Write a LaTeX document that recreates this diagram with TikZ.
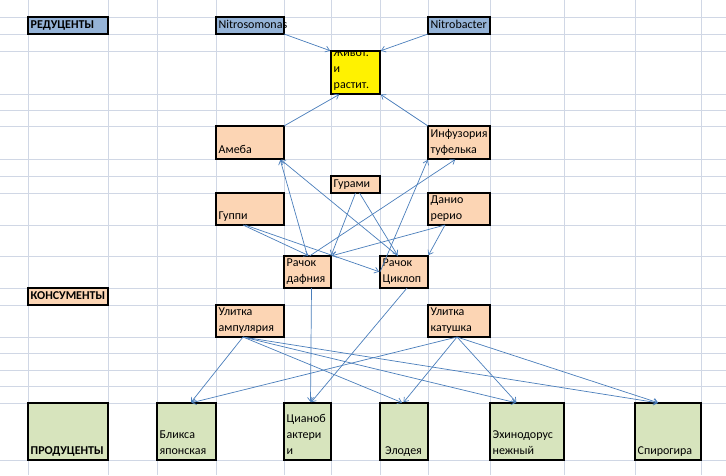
\documentclass[tikz,border=0pt]{standalone}
\usepackage{fontspec}
\setmainfont{Carlito}
\usepackage{xcolor}
\usepackage{tikz}
\usetikzlibrary{arrows.meta}

\definecolor{gridgray}{RGB}{208,215,229}
\definecolor{hdrblue}{RGB}{149,179,215}
\definecolor{peach}{RGB}{252,213,180}
\definecolor{plantgreen}{RGB}{215,228,189}
\definecolor{linkblue}{RGB}{74,126,187}

\begin{document}
\begin{tikzpicture}[
  x=1pt, y=-1pt,
  cell/.style={draw, line width=1.6pt, anchor=north west, inner sep=0pt, outer sep=0pt},
  celltext/.style={anchor=south west, align=left, inner xsep=2.5pt, inner ysep=0.3pt,
    font=\fontsize{12}{16}\selectfont, execute at end node=\strut},
  boldtext/.style={celltext, font=\fontsize{12}{16}\selectfont\bfseries},
  link/.style={draw=linkblue, line width=0.7pt, -{Straight Barb[length=4pt,width=6pt]}, shorten >=1pt}
]
\useasboundingbox (0,0) rectangle (726,475);
\fill[white] (0,0) rectangle (726,475);

% Sheet grid
\foreach \gx in {28,108,157,216,284,331,380,428,490,564,635,701}
  \draw[gridgray, line width=0.8pt] (\gx,0) -- (\gx,475);
\foreach \gy in {17,34,51,94,110,126,159,176,193,225,256,288,305,337,353,370,386,403,460}
  \draw[gridgray, line width=0.8pt] (0,\gy) -- (726,\gy);

% Reducers
\node[cell, fill=hdrblue, minimum width=80pt, minimum height=17pt] (reducenty) at (28,17) {};
\node[boldtext] (reducentytxt) at (reducenty.south west) {РЕДУЦЕНТЫ};
\node[cell, fill=hdrblue, minimum width=68pt, minimum height=17pt] (nitrosomonas) at (216,17) {};
\node[celltext] (nitrosomonastxt) at (nitrosomonas.south west) {Nitrosomonas};
\node[cell, fill=hdrblue, minimum width=62pt, minimum height=17pt] (nitrobacter) at (428,17) {};
\node[celltext] (nitrobactertxt) at (nitrobacter.south west) {Nitrobacter};

% Remains
\node[cell, fill=yellow, minimum width=49pt, minimum height=43pt] (zhivot) at (331,51) {};
\begin{scope}
  \clip (zhivot.north west) rectangle (zhivot.south east);
  \node[celltext] (zhivottxt) at (zhivot.south west) {Живот.\\и\\растит.};
\end{scope}
\draw[line width=1.6pt] (zhivot.north west) rectangle (zhivot.south east);

% Consumers
\node[cell, fill=peach, minimum width=68pt, minimum height=33pt] (ameba) at (216,126) {};
\node[celltext] (amebatxt) at (ameba.south west) {Амеба};
\node[cell, fill=peach, minimum width=62pt, minimum height=33pt] (infuzoria) at (428,126) {};
\node[celltext] (infuzoriatxt) at (infuzoria.south west) {Инфузория\\туфелька};
\node[cell, fill=peach, minimum width=49pt, minimum height=17pt] (gurami) at (331,176) {};
\node[celltext] (guramitxt) at (gurami.south west) {Гурами};
\node[cell, fill=peach, minimum width=68pt, minimum height=32pt] (guppi) at (216,193) {};
\node[celltext] (guppitxt) at (guppi.south west) {Гуппи};
\node[cell, fill=peach, minimum width=62pt, minimum height=32pt] (danio) at (428,193) {};
\node[celltext] (daniotxt) at (danio.south west) {Данио\\рерио};
\node[cell, fill=peach, minimum width=47pt, minimum height=32pt] (dafnia) at (284,256) {};
\node[celltext] (dafniatxt) at (dafnia.south west) {Рачок\\дафния};
\node[cell, fill=peach, minimum width=48pt, minimum height=32pt] (ciklop) at (380,256) {};
\node[celltext] (ciklopt) at (ciklop.south west) {Рачок\\Циклоп};
\node[cell, fill=peach, minimum width=80pt, minimum height=17pt] (konsumenty) at (28,288) {};
\node[boldtext] (konsumentytxt) at (konsumenty.south west) {КОНСУМЕНТЫ};
\node[cell, fill=peach, minimum width=68pt, minimum height=32pt] (ampularia) at (216,305) {};
\node[celltext] (ampulariatxt) at (ampularia.south west) {Улитка\\ампулярия};
\node[cell, fill=peach, minimum width=62pt, minimum height=32pt] (katushka) at (428,305) {};
\node[celltext] (katushkatxt) at (katushka.south west) {Улитка\\катушка};

% Producers
\node[cell, fill=plantgreen, minimum width=80pt, minimum height=57pt] (producenty) at (28,403) {};
\node[boldtext] (producentytxt) at (producenty.south west) {ПРОДУЦЕНТЫ};
\node[cell, fill=plantgreen, minimum width=59pt, minimum height=57pt] (bliksa) at (157,403) {};
\node[celltext] (bliksatxt) at (bliksa.south west) {Бликса\\японская};
\node[cell, fill=plantgreen, minimum width=47pt, minimum height=57pt] (cianob) at (284,403) {};
\node[celltext] (cianobtxt) at (cianob.south west) {Цианоб\\актери\\и};
\node[cell, fill=plantgreen, minimum width=48pt, minimum height=57pt] (elodea) at (380,403) {};
\node[celltext, inner xsep=5pt] (elodeatxt) at (elodea.south west) {Элодея};
\node[cell, fill=plantgreen, minimum width=74pt, minimum height=57pt] (ehinodorus) at (490,403) {};
\node[celltext] (ehinodorustxt) at (ehinodorus.south west) {Эхинодорус\\нежный};
\node[cell, fill=plantgreen, minimum width=66pt, minimum height=57pt] (spirogira) at (635,403) {};
\node[celltext] (spirogiratxt) at (spirogira.south west) {Спирогира};

% Links to the remains
\draw[link] (nitrosomonas.south east) -- (zhivot.north west);
\draw[link] (nitrobacter.south west) -- (zhivot.north east);
\draw[link] (ameba.north east) -- ([xshift=9pt]zhivot.south west);
\draw[link] (infuzoria.north west) -- (zhivot.south east);

% Links between consumers
\draw[link] (dafnia.north) -- ([xshift=-4pt]ameba.south east);
\draw[link] ([xshift=18pt]ciklop.north west) -- ([xshift=-4pt]ameba.south east);
\draw[link] (gurami.south) -- (dafnia.north east);
\draw[link] ([xshift=4pt]gurami.south) -- ([xshift=18pt]ciklop.north west);
\draw[link] ([xshift=27pt]guppi.south west) -- ([xshift=2pt]dafnia.north);
\draw[link] ([xshift=29pt]guppi.south west) -- (ciklop.west);
\draw[link] ([xshift=17pt]danio.south west) -- (dafnia.north east);
\draw[link] ([xshift=17pt]danio.south west) -- (ciklop.north east);
\draw[link] ([xshift=2pt]dafnia.north) -- ([xshift=28pt]infuzoria.south west);
\draw[link] (ciklop.west) -- (infuzoria.south west);

% Links to producers
\draw[link] ([xshift=4pt]dafnia.south) -- ([xshift=3pt]cianob.north);
\draw[link] ([xshift=3pt]ciklop.south) -- ([xshift=3pt]cianob.north);
\draw[link] ([xshift=27pt]ampularia.south west) -- ([xshift=4pt]bliksa.north);
\draw[link] ([xshift=27pt]ampularia.south west) -- ([xshift=-1pt]elodea.north);
\draw[link] ([xshift=27pt]ampularia.south west) -- ([xshift=-10pt]ehinodorus.north);
\draw[link] ([xshift=27pt]ampularia.south west) -- ([xshift=-9pt]spirogira.north);
\draw[link] ([xshift=29pt]katushka.south west) -- ([xshift=4pt]bliksa.north);
\draw[link] ([xshift=29pt]katushka.south west) -- ([xshift=-1pt]elodea.north);
\draw[link] ([xshift=29pt]katushka.south west) -- ([xshift=-10pt]ehinodorus.north);
\draw[link] ([xshift=29pt]katushka.south west) -- ([xshift=-9pt]spirogira.north);

\end{tikzpicture}
\end{document}
